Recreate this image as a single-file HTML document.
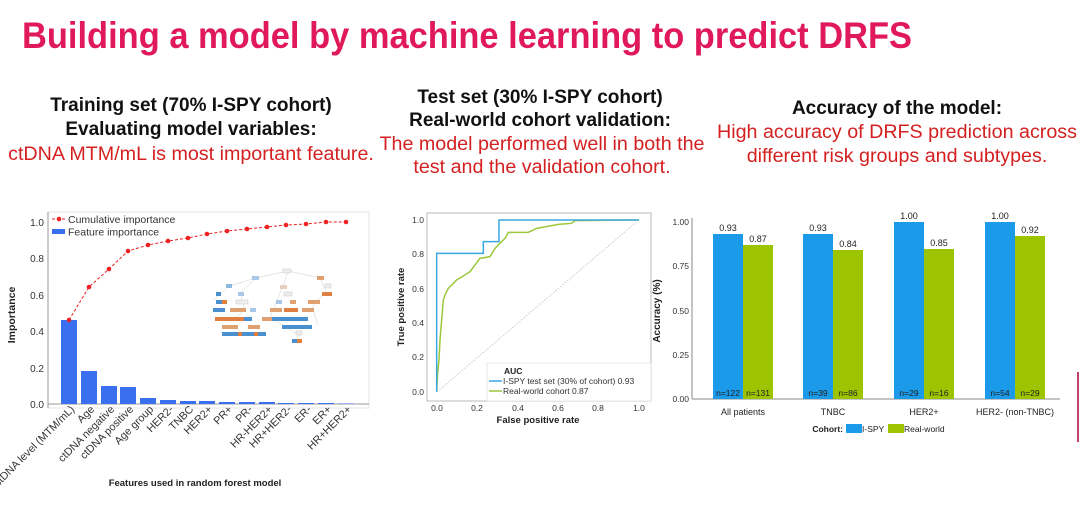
<!DOCTYPE html>
<html><head><meta charset="utf-8"><style>
html,body{margin:0;padding:0;background:#fff;}
svg{display:block;font-family:"Liberation Sans",Arial,sans-serif;}
</style></head><body>
<svg width="1080" height="505" viewBox="0 0 1080 505" xmlns="http://www.w3.org/2000/svg">
<rect width="1080" height="505" fill="#fff"/>
<text x="22" y="48" font-family="'Liberation Sans Narrow','Liberation Sans',sans-serif" font-weight="bold" font-size="37" fill="#e0195a" textLength="890" lengthAdjust="spacingAndGlyphs">Building a model by machine learning to predict DRFS</text>

<g text-anchor="middle">
<text x="191" y="111" font-size="19" font-weight="bold" fill="#111">Training set (70% I-SPY cohort)</text>
<text x="191" y="135" font-size="19" font-weight="bold" fill="#111">Evaluating model variables:</text>
<text x="191" y="160" font-size="19.7" fill="#d42020">ctDNA MTM/mL is most important feature.</text>
<text x="540" y="103" font-size="19" font-weight="bold" fill="#111">Test set (30% I-SPY cohort)</text>
<text x="540" y="126" font-size="19" font-weight="bold" fill="#111">Real-world cohort validation:</text>
<text x="542" y="150" font-size="19.7" fill="#d42020">The model performed well in both the</text>
<text x="542" y="173" font-size="19.7" fill="#d42020">test and the validation cohort.</text>
<text x="897" y="114" font-size="19" font-weight="bold" fill="#111">Accuracy of the model:</text>
<text x="897" y="138" font-size="19.7" fill="#d42020">High accuracy of DRFS prediction across</text>
<text x="897" y="162" font-size="19.7" fill="#d42020">different risk groups and subtypes.</text>
</g>

<g>
<rect x="48" y="212" width="321" height="196" fill="none" stroke="#e4e4e4" stroke-width="1"/>
<line x1="48" y1="212" x2="48" y2="408" stroke="#999"/>
<line x1="48" y1="404" x2="369" y2="404" stroke="#999"/>
<g font-size="10" fill="#333" text-anchor="end">
<text x="44" y="226">1.0</text><text x="44" y="262">0.8</text><text x="44" y="299">0.6</text><text x="44" y="335">0.4</text><text x="44" y="372">0.2</text><text x="44" y="408">0.0</text>
</g>
<text transform="translate(15,315) rotate(-90)" font-size="10.5" font-weight="bold" text-anchor="middle" fill="#222">Importance</text>
<g fill="#3a6ff0">
<rect x="61" y="320" width="16" height="84"/>
<rect x="81" y="371" width="16" height="33"/>
<rect x="101" y="386" width="16" height="18"/>
<rect x="120" y="387" width="16" height="17"/>
<rect x="140" y="398" width="16" height="6"/>
<rect x="160" y="400" width="16" height="4"/>
<rect x="180" y="401" width="16" height="3"/>
<rect x="199" y="401" width="16" height="3"/>
<rect x="219" y="402" width="16" height="2"/>
<rect x="239" y="402" width="16" height="2"/>
<rect x="259" y="402" width="16" height="2"/>
<rect x="278" y="403" width="16" height="1"/>
<rect x="298" y="403" width="16" height="1"/>
<rect x="318" y="403" width="16" height="1"/>
<rect x="338" y="403.5" width="16" height="0.5"/>
</g>
<polyline fill="none" stroke="#e22" stroke-width="1" stroke-dasharray="3,2" points="69,320 89,287 109,269 128,251 148,245 168,241 188,238 207,234 227,231 247,229 267,227 286,225 306,224 326,222 346,222"/>
<g fill="#e22">
<circle cx="69" cy="320" r="2.3"/><circle cx="89" cy="287" r="2.3"/><circle cx="109" cy="269" r="2.3"/><circle cx="128" cy="251" r="2.3"/><circle cx="148" cy="245" r="2.3"/><circle cx="168" cy="241" r="2.3"/><circle cx="188" cy="238" r="2.3"/><circle cx="207" cy="234" r="2.3"/><circle cx="227" cy="231" r="2.3"/><circle cx="247" cy="229" r="2.3"/><circle cx="267" cy="227" r="2.3"/><circle cx="286" cy="225" r="2.3"/><circle cx="306" cy="224" r="2.3"/><circle cx="326" cy="222" r="2.3"/><circle cx="346" cy="222" r="2.3"/>
</g>
<line x1="52" y1="219" x2="66" y2="219" stroke="#e22" stroke-dasharray="3,2"/><circle cx="59" cy="219" r="2.3" fill="#e22"/>
<text x="68" y="223" font-size="10.5" fill="#333">Cumulative importance</text>
<rect x="52" y="229" width="13" height="5" fill="#3a6ff0"/>
<text x="68" y="235.5" font-size="10.5" fill="#333">Feature importance</text>
<g stroke="#ccc" stroke-width="0.5" fill="none">
<path d="M288 271 L256 278 L229 286 L214 300 M256 278 L240 293 L245 310 L233 320 M288 271 L283 286 L277 300 L270 317 L284 326 L300 336 M288 271 L320 278 L326 291 L312 307 L318 325"/>
</g>
<g>
<rect x="283" y="269" width="8" height="4" fill="#eee" stroke="#bbb" stroke-width="0.4"/>
<rect x="252" y="276" width="7" height="4" fill="#a8c8e8"/>
<rect x="280" y="285" width="7" height="4" fill="#e8d0c0"/>
<rect x="317" y="276" width="7" height="4" fill="#e0a070"/>
<rect x="325" y="284" width="6" height="4" fill="#eee" stroke="#bbb" stroke-width="0.4"/>
<rect x="226" y="284" width="6" height="4" fill="#8ab8e0"/>
<rect x="238" y="292" width="6" height="4" fill="#a8c8e8"/>
<rect x="284" y="292" width="8" height="4" fill="#eee" stroke="#bbb" stroke-width="0.4"/>
<rect x="216" y="292" width="5" height="4" fill="#4a90d0"/>
<rect x="322" y="292" width="10" height="4" fill="#e08040"/>
<rect x="216" y="300" width="10" height="4" fill="#4a90d0"/><rect x="222" y="300" width="5" height="4" fill="#e08040"/>
<rect x="236" y="300" width="12" height="4" fill="#eee" stroke="#bbb" stroke-width="0.4"/>
<rect x="276" y="300" width="6" height="4" fill="#a8c8e8"/><rect x="290" y="300" width="6" height="4" fill="#e0a070"/>
<rect x="308" y="300" width="12" height="4" fill="#e0a070"/>
<rect x="213" y="308" width="12" height="4" fill="#4a90d0"/>
<rect x="230" y="308" width="16" height="4" fill="#e0a070"/>
<rect x="250" y="308" width="6" height="4" fill="#a8c8e8"/>
<rect x="270" y="308" width="12" height="4" fill="#e0a070"/><rect x="284" y="308" width="14" height="4" fill="#e08040"/>
<rect x="302" y="308" width="12" height="4" fill="#e0a070"/>
<rect x="215" y="317" width="30" height="4" fill="#e08040"/>
<rect x="244" y="317" width="8" height="4" fill="#4a90d0"/>
<rect x="262" y="317" width="10" height="4" fill="#e0a070"/>
<rect x="272" y="317" width="36" height="4" fill="#4a90d0"/>
<rect x="222" y="325" width="16" height="4" fill="#e0a070"/>
<rect x="248" y="325" width="12" height="4" fill="#e0a070"/>
<rect x="282" y="325" width="30" height="4" fill="#4a90d0"/>
<rect x="222" y="332" width="44" height="4" fill="#4a90d0"/><rect x="238" y="332" width="4" height="4" fill="#e08040"/><rect x="254" y="332" width="4" height="4" fill="#e08040"/>
<rect x="296" y="331" width="6" height="4" fill="#eee" stroke="#bbb" stroke-width="0.4"/>
<rect x="292" y="339" width="10" height="4" fill="#4a90d0"/><rect x="297" y="339" width="5" height="4" fill="#e08040"/>
</g>
<g font-size="10.8" fill="#333" text-anchor="end">
<text transform="translate(75,410) rotate(-45)">ctDNA level (MTM/mL)</text>
<text transform="translate(95,410) rotate(-45)">Age</text>
<text transform="translate(115,410) rotate(-45)">ctDNA negative</text>
<text transform="translate(134,410) rotate(-45)">ctDNA positive</text>
<text transform="translate(154,410) rotate(-45)">Age group</text>
<text transform="translate(174,410) rotate(-45)">HER2-</text>
<text transform="translate(194,410) rotate(-45)">TNBC</text>
<text transform="translate(213,410) rotate(-45)">HER2+</text>
<text transform="translate(233,410) rotate(-45)">PR+</text>
<text transform="translate(253,410) rotate(-45)">PR-</text>
<text transform="translate(273,410) rotate(-45)">HR-HER2+</text>
<text transform="translate(292,410) rotate(-45)">HR+HER2-</text>
<text transform="translate(312,410) rotate(-45)">ER-</text>
<text transform="translate(332,410) rotate(-45)">ER+</text>
<text transform="translate(352,410) rotate(-45)">HR+HER2+</text>
</g>
<text x="195" y="486" font-size="9.5" font-weight="bold" text-anchor="middle" fill="#222">Features used in random forest model</text>
</g>

<g>
<rect x="427" y="213" width="224" height="188" fill="none" stroke="#aaa" stroke-width="0.8"/>
<g font-size="8.5" fill="#333" text-anchor="end">
<text x="424" y="223">1.0</text><text x="424" y="257">0.8</text><text x="424" y="292">0.6</text><text x="424" y="326">0.4</text><text x="424" y="360">0.2</text><text x="424" y="395">0.0</text>
</g>
<g font-size="8.5" fill="#333" text-anchor="middle">
<text x="437" y="411">0.0</text><text x="477" y="411">0.2</text><text x="518" y="411">0.4</text><text x="558" y="411">0.6</text><text x="598" y="411">0.8</text><text x="639" y="411">1.0</text>
</g>
<text transform="translate(404,307) rotate(-90)" font-size="9.5" font-weight="bold" text-anchor="middle" fill="#222">True positive rate</text>
<text x="538" y="423" font-size="9.5" font-weight="bold" text-anchor="middle" fill="#222">False positive rate</text>
<line x1="437" y1="392" x2="639" y2="220" stroke="#aaa" stroke-width="0.6" stroke-dasharray="1.5,1.5"/>
<g transform="translate(385,200) scale(0.3333)" fill="none" stroke-width="4.5">
<polyline stroke="#9cc83c" points="155,575 158,520 162,480 165,420 170,360 175,300 182,280 190,265 200,255 215,240 235,228 255,215 270,195 285,175 315,170 330,145 345,130 360,115 370,97 430,97 455,85 520,73 560,70 570,62 762,60"/>
<polyline stroke="#3aa8e0" points="155,575 155,160 295,160 295,125 342,125 342,60 762,60"/>
</g>
<rect x="487" y="363" width="164" height="38" fill="#fff" stroke="#ddd" stroke-width="0.6"/>
<text x="504" y="374" font-size="8.5" font-weight="bold" fill="#222">AUC</text>
<line x1="489" y1="381" x2="502" y2="381" stroke="#3aa8e0" stroke-width="1.5"/>
<text x="503" y="384" font-size="8.5" fill="#333">I-SPY test set (30% of cohort) 0.93</text>
<line x1="489" y1="391" x2="502" y2="391" stroke="#9cc83c" stroke-width="1.5"/>
<text x="503" y="394" font-size="8.5" fill="#333">Real-world cohort 0.87</text>
</g>

<g>
<line x1="692" y1="218" x2="692" y2="399" stroke="#888"/>
<line x1="692" y1="399" x2="1060" y2="399" stroke="#888"/>
<g font-size="8.5" fill="#333" text-anchor="end">
<text x="689" y="225">1.00</text><text x="689" y="269">0.75</text><text x="689" y="314">0.50</text><text x="689" y="358">0.25</text><text x="689" y="402">0.00</text>
</g>
<text transform="translate(660,311) rotate(-90)" font-size="10" font-weight="bold" text-anchor="middle" fill="#222">Accuracy (%)</text>
<g fill="#1a9ae8">
<rect x="713" y="234" width="30" height="165"/>
<rect x="803" y="234" width="30" height="165"/>
<rect x="894" y="222" width="30" height="177"/>
<rect x="985" y="222" width="30" height="177"/>
</g>
<g fill="#9cc400">
<rect x="743" y="245" width="30" height="154"/>
<rect x="833" y="250" width="30" height="149"/>
<rect x="924" y="249" width="30" height="150"/>
<rect x="1015" y="236" width="30" height="163"/>
</g>
<g font-size="9" fill="#222" text-anchor="middle">
<text x="728" y="231">0.93</text><text x="758" y="242">0.87</text>
<text x="818" y="231">0.93</text><text x="848" y="247">0.84</text>
<text x="909" y="219">1.00</text><text x="939" y="246">0.85</text>
<text x="1000" y="219">1.00</text><text x="1030" y="233">0.92</text>
</g>
<g font-size="8.5" fill="#222" text-anchor="middle">
<text x="728" y="396">n=122</text><text x="758" y="396">n=131</text>
<text x="818" y="396">n=39</text><text x="848" y="396">n=86</text>
<text x="909" y="396">n=29</text><text x="939" y="396">n=16</text>
<text x="1000" y="396">n=54</text><text x="1030" y="396">n=29</text>
</g>
<g font-size="9" fill="#222" text-anchor="middle">
<text x="743" y="415">All patients</text><text x="833" y="415">TNBC</text><text x="924" y="415">HER2+</text><text x="1015" y="415">HER2- (non-TNBC)</text>
</g>
<text x="843" y="432" font-size="8.5" font-weight="bold" text-anchor="end" fill="#222">Cohort:</text>
<rect x="846" y="424" width="16" height="9" fill="#1a9ae8"/>
<text x="862" y="432" font-size="8.5" fill="#222">I-SPY</text>
<rect x="888" y="424" width="16" height="9" fill="#9cc400"/>
<text x="904" y="432" font-size="8.5" fill="#222">Real-world</text>
</g>
<rect x="1077" y="372" width="2" height="70" fill="#c04070"/>
</svg>
</body></html>
